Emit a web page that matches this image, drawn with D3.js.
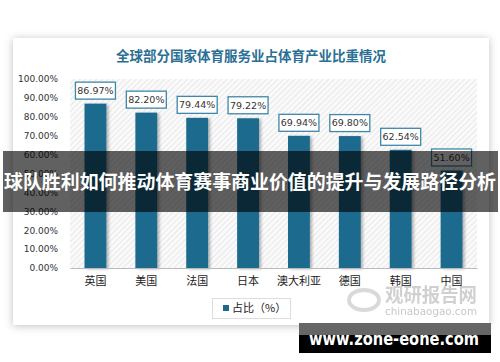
<!DOCTYPE html>
<html>
<head>
<meta charset="utf-8">
<script src="https://cdn.jsdelivr.net/npm/d3@7/dist/d3.min.js"></script>
<style>
  body { margin: 0; background: #fff; }
  svg { display: block; }
</style>
</head>
<body>
<div id="chart"></div>
<script>
var categories = ["英国", "美国", "法国", "日本", "澳大利亚", "德国", "韩国", "中国"];
var shares = [86.97, 82.20, 79.44, 79.22, 69.94, 69.80, 62.54, 51.60];
var yTicks = [0, 10, 20, 30, 40, 50, 60, 70, 80, 90, 100];
var titleText = "全球部分国家体育服务业占体育产业比重情况";
var legendText = "占比（%）";
var bannerText = "球队胜利如何推动体育赛事商业价值的提升与发展路径分析";
var urlText = "www.zone-eone.com";

var width = 500, height = 362;
var plotLeft = 70, plotRight = 477, plotTop = 79, plotBottom = 268;
var cjk = "'Noto Sans CJK SC', 'Noto Sans', sans-serif";
var num = "'DejaVu Sans', Verdana, sans-serif";
var barColor = "#1e6a8d";

var svg = d3.select("#chart").append("svg")
    .attr("width", width).attr("height", height);

var defs = svg.append("defs");
var cardShadow = defs.append("filter").attr("id", "cardShadow")
    .attr("x", "-10%").attr("y", "-10%").attr("width", "120%").attr("height", "120%");
cardShadow.append("feDropShadow").attr("dx", 0).attr("dy", 1)
    .attr("stdDeviation", 4).attr("flood-color", "#000").attr("flood-opacity", 0.25);

var barShadow = defs.append("filter").attr("id", "barShadow")
    .attr("x", "-30%").attr("y", "-10%").attr("width", "170%").attr("height", "130%");
barShadow.append("feDropShadow").attr("dx", 2).attr("dy", 1)
    .attr("stdDeviation", 1.5).attr("flood-color", "#000").attr("flood-opacity", 0.3);

var hatch = defs.append("pattern").attr("id", "hatch")
    .attr("patternUnits", "userSpaceOnUse").attr("width", 4).attr("height", 4)
    .attr("patternTransform", "rotate(45)");
hatch.append("rect").attr("width", 4).attr("height", 4).attr("fill", "#fafafa");
hatch.append("line").attr("x1", 0).attr("y1", 0).attr("x2", 0).attr("y2", 4)
    .attr("stroke", "#dcdcdc").attr("stroke-width", 1.2);

// card
svg.append("rect")
    .attr("x", 13).attr("y", 38).attr("width", 476).attr("height", 287)
    .attr("fill", "#fff").attr("filter", "url(#cardShadow)");

// title
svg.append("text")
    .attr("x", 251).attr("y", 61)
    .attr("text-anchor", "middle")
    .attr("font-family", cjk).attr("font-weight", "bold")
    .attr("font-size", "13.5px").attr("fill", "#2b6f94")
    .text(titleText);

var x = d3.scaleBand().domain(categories).range([plotLeft, plotRight]).paddingInner(0.57).paddingOuter(0.285);
var y = d3.scaleLinear().domain([0, 100]).range([plotBottom, plotTop]);

// plot background
svg.append("rect")
    .attr("x", plotLeft).attr("y", plotTop)
    .attr("width", plotRight - plotLeft).attr("height", plotBottom - plotTop)
    .attr("fill", "url(#hatch)");

// y axis labels
var yAxis = svg.append("g")
    .attr("transform", "translate(" + plotLeft + ",0)")
    .call(d3.axisLeft(y).tickValues(yTicks).tickSize(0).tickPadding(12)
        .tickFormat(function(d) { return d.toFixed(2) + "%"; }));
yAxis.select(".domain").remove();
yAxis.selectAll("text")
    .attr("font-family", num).attr("font-size", "9px").attr("fill", "#333");

// bars
svg.append("g").selectAll("rect").data(shares).enter()
    .append("rect")
    .attr("x", function(d, i) { return x(categories[i]); })
    .attr("y", function(d) { return y(d); })
    .attr("width", x.bandwidth())
    .attr("height", function(d) { return plotBottom - y(d); })
    .attr("fill", barColor)
    .attr("filter", "url(#barShadow)");

// x axis
var xAxis = svg.append("g")
    .attr("transform", "translate(0," + plotBottom + ")")
    .call(d3.axisBottom(x).tickSize(0).tickPadding(9));
xAxis.select(".domain").attr("stroke", "#bbb");
xAxis.selectAll("text")
    .attr("font-family", cjk).attr("font-size", "11px").attr("fill", "#222");

// data labels
var labels = svg.append("g").selectAll("g").data(shares).enter()
    .append("g")
    .attr("transform", function(d, i) {
        return "translate(" + (x(categories[i]) + x.bandwidth() / 2) + "," + (y(d) - 13) + ")";
    });
labels.append("rect")
    .attr("x", -20).attr("y", -8.5).attr("width", 40).attr("height", 17)
    .attr("fill", "#fff").attr("stroke", "#3f86a8").attr("stroke-width", 1.3);
labels.append("text")
    .attr("text-anchor", "middle").attr("dy", "0.35em")
    .attr("font-family", num).attr("font-size", "9.5px").attr("fill", "#333")
    .text(function(d) { return d.toFixed(2) + "%"; });

// legend
svg.append("rect")
    .attr("x", 212.5).attr("y", 298.5).attr("width", 78).attr("height", 20)
    .attr("fill", "#fff").attr("stroke", "#ddd");
svg.append("rect")
    .attr("x", 223).attr("y", 305).attr("width", 6).attr("height", 6)
    .attr("fill", barColor);
svg.append("text")
    .attr("x", 232).attr("y", 312)
    .attr("font-family", cjk).attr("font-size", "11px").attr("fill", "#222")
    .text(legendText);

// watermark
var wm = svg.append("g").attr("opacity", 0.55);
wm.append("ellipse").attr("cx", 364).attr("cy", 300).attr("rx", 15).attr("ry", 10)
    .attr("fill", "none").attr("stroke", "#bbb").attr("stroke-width", 4);
wm.append("text")
    .attr("x", 385).attr("y", 302)
    .attr("font-family", cjk).attr("font-weight", "bold").attr("font-size", "19px")
    .attr("fill", "#aaa")
    .attr("textLength", 92).attr("lengthAdjust", "spacingAndGlyphs")
    .text("观研报告网");
wm.append("text")
    .attr("x", 385).attr("y", 315)
    .attr("font-family", num).attr("font-size", "10.5px")
    .attr("fill", "#999")
    .attr("textLength", 92).attr("lengthAdjust", "spacingAndGlyphs")
    .text("chinabaogao.com");

// banner overlay
svg.append("rect")
    .attr("x", 3).attr("y", 151).attr("width", 495).attr("height", 61)
    .attr("fill", "#000").attr("fill-opacity", 0.62);
svg.append("text")
    .attr("x", 250).attr("y", 189)
    .attr("text-anchor", "middle")
    .attr("font-family", cjk).attr("font-weight", "bold").attr("font-size", "19px")
    .attr("fill", "#fff")
    .attr("textLength", 492).attr("lengthAdjust", "spacingAndGlyphs")
    .text(bannerText);

// url box
svg.append("rect")
    .attr("x", 299).attr("y", 323).attr("width", 192).attr("height", 30)
    .attr("fill", "#000");
svg.append("rect")
    .attr("x", 299).attr("y", 323).attr("width", 192).attr("height", 12)
    .attr("fill", "#666");
svg.append("text")
    .attr("x", 309).attr("y", 345)
    .attr("font-family", num).attr("font-weight", "bold").attr("font-size", "18px")
    .attr("fill", "#fff")
    .attr("textLength", 170).attr("lengthAdjust", "spacingAndGlyphs")
    .text(urlText);
</script>
</body>
</html>
